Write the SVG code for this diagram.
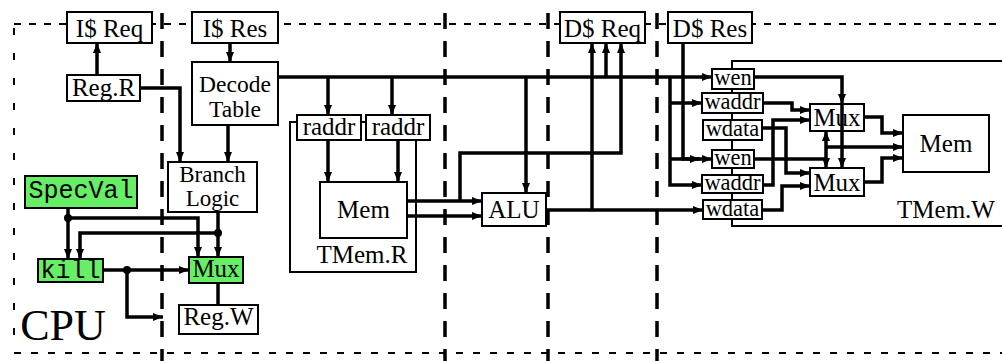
<svg xmlns="http://www.w3.org/2000/svg" width="1002" height="361" viewBox="0 0 1002 361">
<style>
.b{fill:#fff;stroke:#000;stroke-width:2}
.g{fill:#66ee66;stroke:#000;stroke-width:2}
.c{fill:none;stroke:#000;stroke-width:2}
.t{font-family:"Liberation Serif","Times New Roman",serif;font-size:25px;text-anchor:middle;fill:#000}
.s{font-size:22.5px}
.two{font-size:23.5px}
.m{font-family:"Liberation Mono","Courier New",monospace;font-size:25px;text-anchor:middle;fill:#000}
.w{fill:none;stroke:#000;stroke-width:3.5;stroke-linejoin:miter}
.a{marker-end:url(#ah)}
.dt{fill:none;stroke:#000;stroke-width:2}
.dk{fill:none;stroke:#000;stroke-width:3.5;stroke-dasharray:16 12}
</style>
<defs>
<marker id="ah" viewBox="0 0 10 8" refX="10" refY="4" markerWidth="10" markerHeight="8" markerUnits="userSpaceOnUse" orient="auto"><path d="M0,0 L10,4 L0,8 Z" fill="#000"/></marker>
</defs>
<rect width="1002" height="361" fill="#fff"/>
<g id="boundaries">
<path class="dt" d="M14,24 H1002" stroke-dasharray="7 8"/>
<path class="dt" d="M14,28 V353" stroke-dasharray="7 18"/>
<path class="dt" d="M14,353 H1002" stroke-dasharray="7 10"/>
<path class="dk" d="M162,13 V361"/>
<path class="dk" d="M445,13 V361"/>
<path class="dk" d="M548,13 V361"/>
<path class="dk" d="M657,13 V361"/>
<text class="t" x="63" y="340" style="font-size:44px">CPU</text>
</g>
<g id="tmem_r"><rect class="c" x="290" y="122" width="126" height="150"/><text class="t" x="362" y="263">TMem.R</text></g>
<g id="tmem_w"><path class="c" d="M1002,61 H732 V226 H1002"/><text class="t" x="946" y="218">TMem.W</text></g>
<g id="icache_req"><rect class="b" x="67" y="12" width="85" height="31"/><text class="t" x="109.5" y="37">I$ Req</text></g>
<g id="icache_res"><rect class="b" x="192" y="12" width="86" height="31"/><text class="t" x="235" y="37">I$ Res</text></g>
<g id="reg_r"><rect class="b" x="67" y="75" width="73" height="26"/><text class="t" x="103.5" y="96">Reg.R</text></g>
<g id="decode"><rect class="b" x="192" y="62" width="86" height="63"/><text class="t two" x="235" y="92">Decode</text><text class="t two" x="235" y="117">Table</text></g>
<g id="branch"><rect class="b" x="168" y="162" width="89" height="50"/><text class="t" x="212.5" y="182" style="font-size:23px">Branch</text><text class="t" x="212.5" y="206" style="font-size:23px">Logic</text></g>
<g id="specval"><rect class="g" x="25" y="176" width="112" height="32"/><text class="m" x="81" y="198">SpecVal</text></g>
<g id="kill"><rect class="g" x="38" y="259" width="65" height="23"/><text class="m" x="70.5" y="278">kill</text></g>
<g id="mux_cpu"><rect class="g" x="189" y="257" width="54" height="26"/><text class="t" x="216" y="277">Mux</text></g>
<g id="reg_w"><rect class="b" x="179" y="305" width="79" height="29"/><text class="t" x="218.5" y="325">Reg.W</text></g>
<g id="raddr1"><rect class="b" x="297" y="115" width="64" height="25"/><text class="t" x="329" y="135">raddr</text></g>
<g id="raddr2"><rect class="b" x="366" y="115" width="64" height="25"/><text class="t" x="398" y="135">raddr</text></g>
<g id="mem_r"><rect class="b" x="320" y="182" width="87" height="56"/><text class="t" x="363.5" y="218">Mem</text></g>
<g id="alu"><rect class="b" x="482" y="193" width="64" height="33"/><text class="t" x="514" y="218">ALU</text></g>
<g id="dcache_req"><rect class="b" x="560" y="12" width="85" height="31"/><text class="t" x="602.5" y="37">D$ Req</text></g>
<g id="dcache_res"><rect class="b" x="668" y="12" width="84" height="31"/><text class="t" x="710" y="37">D$ Res</text></g>
<g id="wen1"><rect class="b" x="712" y="69" width="42" height="20"/><text class="t s" x="733" y="85">wen</text></g>
<g id="waddr1"><rect class="b" x="702" y="93" width="61" height="20"/><text class="t s" x="732.5" y="109">waddr</text></g>
<g id="wdata1"><rect class="b" x="703" y="120" width="59" height="20"/><text class="t s" x="732.5" y="136">wdata</text></g>
<g id="wen2"><rect class="b" x="712" y="150" width="42" height="18"/><text class="t s" x="733" y="165">wen</text></g>
<g id="waddr2"><rect class="b" x="702" y="175" width="61" height="18"/><text class="t s" x="732.5" y="190">waddr</text></g>
<g id="wdata2"><rect class="b" x="703" y="200" width="59" height="19"/><text class="t s" x="732.5" y="216">wdata</text></g>
<g id="mux_w1"><rect class="b" x="810" y="104" width="54" height="27"/><text class="t" x="837" y="126">Mux</text></g>
<g id="mux_w2"><rect class="b" x="810" y="168" width="54" height="28"/><text class="t" x="837" y="191">Mux</text></g>
<g id="mem_w"><rect class="b" x="903" y="115" width="86" height="57"/><text class="t" x="946" y="152">Mem</text></g>
<g id="connectors">
<path class="w a" d="M97,75 V43"/>
<path class="w a" d="M140,88 H180 V162"/>
<path class="w a" d="M230,43 V62"/>
<path class="w a" d="M228,125 V162"/>
<path class="w a" d="M68,208 V259"/>
<path class="w a" d="M68,218 H198 V257"/>
<path class="w a" d="M218,212 V257"/>
<path class="w a" d="M218,233 H80 V259"/>
<path class="w a" d="M103,270 H189"/>
<path class="w a" d="M127,270 V317 H163"/>
<path class="w" d="M218,283 V305"/>
<circle cx="68" cy="218" r="4"/>
<circle cx="218" cy="233" r="4"/>
<circle cx="127" cy="270" r="4"/>
<path class="w a" d="M278,77 H712"/>
<path class="w a" d="M328,77 V115"/>
<path class="w a" d="M392,77 V115"/>
<path class="w a" d="M328,140 V182"/>
<path class="w a" d="M398,140 V182"/>
<path class="w a" d="M407,201 H482"/>
<path class="w a" d="M407,216 H482"/>
<path class="w a" d="M460,201 V153 H621 V43"/>
<path class="w a" d="M526,77 V193"/>
<path class="w a" d="M606,77 V43"/>
<path class="w a" d="M546,210 H703"/>
<path class="w a" d="M592,210 V43"/>
<path class="w a" d="M670,77 V185 H702"/>
<path class="w a" d="M670,103 H702"/>
<path class="w a" d="M670,159 H700"/>
<path class="w a" d="M683,43 V159 H712"/>
<path class="w a" d="M754,77 H842 V104"/>
<path class="w a" d="M842,104 V168"/>
<path class="w" d="M754,159 H826"/>
<path class="w a" d="M826,159 V131"/>
<path class="w a" d="M826,159 V168"/>
<path class="w a" d="M826,147 H903"/>
<path class="w a" d="M763,103 H792 V110 H810"/>
<path class="w a" d="M763,185 H773 V120 H810"/>
<path class="w a" d="M762,128 H786 V173 H810"/>
<path class="w a" d="M762,210 H782 V186 H810"/>
<path class="w a" d="M864,117 H882 V133 H903"/>
<path class="w a" d="M864,182 H882 V158 H903"/>
</g>
</svg>
